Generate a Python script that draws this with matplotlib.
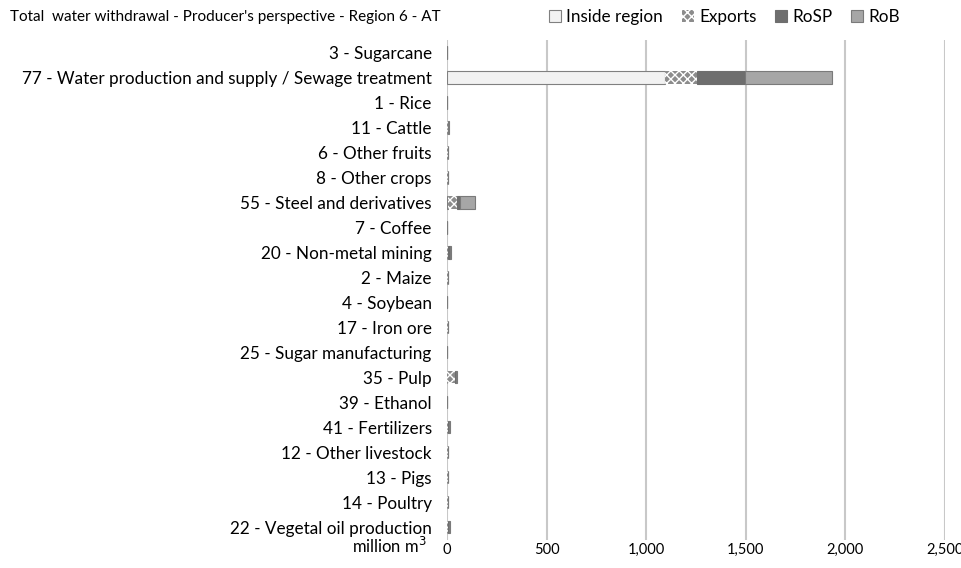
import matplotlib
matplotlib.use('Agg')
import matplotlib.pyplot as plt
import numpy as np

plt.rcParams['font.family'] = ['Lato', 'DejaVu Sans']

sectors = ['3 - Sugarcane', '77 - Water production and supply / Sewage treatment', '1 - Rice',
           '11 - Cattle', '6 - Other fruits', '8 - Other crops', '55 - Steel and derivatives',
           '7 - Coffee', '20 - Non-metal mining', '2 - Maize', '4 - Soybean', '17 - Iron ore',
           '25 - Sugar manufacturing', '35 - Pulp', '39 - Ethanol', '41 - Fertilizers',
           '12 - Other livestock', '13 - Pigs', '14 - Poultry', '22 - Vegetal oil production']
inside = [0, 1095, 0, 2, 2, 2, 3, 0, 2, 2, 0, 2, 0, 2, 0, 2, 2, 2, 2, 2]
exports = [0, 160, 0, 1, 1, 1, 45, 0, 2, 1, 0, 1, 0, 38, 0, 2, 1, 1, 1, 2]
rosp = [0, 240, 0, 2, 1, 1, 15, 0, 10, 1, 0, 1, 0, 6, 0, 6, 1, 1, 1, 8]
rob = [0, 437, 0, 4, 3, 3, 80, 0, 5, 3, 0, 3, 0, 2, 0, 4, 3, 3, 3, 5]
xticks = [0, 500, 1000, 1500, 2000, 2500]

inside = np.array(inside, dtype=float)
exports = np.array(exports, dtype=float)
rosp = np.array(rosp, dtype=float)
rob = np.array(rob, dtype=float)

fig = plt.figure(figsize=(9.62, 5.68), dpi=100)
ax = fig.add_axes([447/962, 1 - 540/568, (945 - 447)/962, (540 - 40)/568])

y = np.arange(len(sectors))
h = 0.5
ax.barh(y, inside, height=h, color='#f2f2f2', edgecolor='#808080', linewidth=0.8, label='Inside region')
ax.barh(y, exports, left=inside, height=h, color='#8c8c8c', edgecolor='white', hatch='xxxx',
        linewidth=0, label='Exports')
ax.barh(y, rosp, left=inside + exports, height=h, color='#6e6e6e', edgecolor='#6e6e6e',
        linewidth=0.8, label='RoSP')
ax.barh(y, rob, left=inside + exports + rosp, height=h, color='#a6a6a6', edgecolor='#7a7a7a',
        linewidth=0.8, label='RoB')

ax.set_ylim(len(sectors) - 0.48, -0.5)
ax.set_yticks(y)
ax.set_yticklabels(sectors, fontsize=12.3)
ax.set_xlim(0, 2500)
ax.set_xticks(xticks)
ax.set_xticklabels(['{:,}'.format(v) for v in xticks], fontsize=10.5)
ax.tick_params(axis='y', length=0, pad=11)
ax.tick_params(axis='x', length=0, pad=2)
ax.grid(axis='x', color='#c8c8c8', linewidth=1.5)
ax.set_axisbelow(True)
for s in ax.spines.values():
    s.set_visible(False)

fig.text(427/962, 1 - 546/568, 'million m$^3$', fontsize=12, va='center', ha='right')
fig.text(10/962, 1 - 17/568, "Total  water withdrawal - Producer's perspective - Region 6 - AT",
         fontsize=11, va='center', ha='left')
fig.legend(loc='center left', bbox_to_anchor=(534/962, 1 - 17/568), ncol=4, frameon=False,
           fontsize=12.3, handlelength=0.7, handleheight=0.7, handletextpad=0.3, columnspacing=1.1)

fig.savefig('out.png', dpi=100)
